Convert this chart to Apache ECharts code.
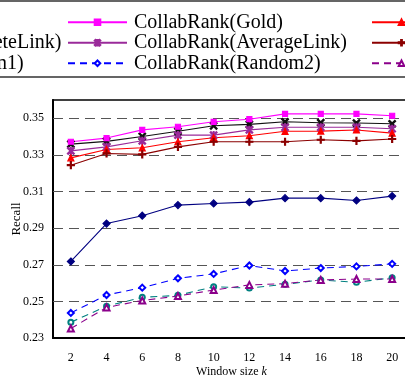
<!DOCTYPE html>
<html><head><meta charset="utf-8">
<script src="https://cdn.jsdelivr.net/npm/echarts@6/dist/echarts.min.js"></script>
<style>html,body{margin:0;padding:0;background:#fff}#c{width:405px;height:382px}</style>
</head><body><div id="c"></div>
<script>
const windowSizes = ['2','4','6','8','10','12','14','16','18','20'];
const yTickLabels = [0.23,0.25,0.27,0.29,0.31,0.33,0.35];
const gridLines = [0.25,0.27,0.29,0.31,0.33,0.35];

const singleRank    = [0.2718,0.2925,0.2968,0.3026,0.3035,0.3042,0.3064,0.3064,0.3051,0.3075];
const completeLink  = [0.3359,0.3374,0.3401,0.3429,0.3459,0.3467,0.3481,0.3476,0.3474,0.3470];
const random1       = [0.2386,0.2474,0.2522,0.2533,0.2580,0.2573,0.2593,0.2617,0.2604,0.2629];
const gold          = [0.3372,0.3392,0.3437,0.3454,0.3481,0.3495,0.3524,0.3524,0.3524,0.3514];
const averageLink   = [0.3322,0.3344,0.3377,0.3408,0.3408,0.3437,0.3451,0.3451,0.3451,0.3443];
const random2       = [0.2437,0.2535,0.2575,0.2626,0.2650,0.2696,0.2666,0.2682,0.2691,0.2705];
const kmeans        = [0.3284,0.3330,0.3339,0.3372,0.3394,0.3405,0.3429,0.3430,0.3436,0.3419];
const singleLink    = [0.3244,0.3308,0.3303,0.3344,0.3372,0.3372,0.3372,0.3383,0.3377,0.3387];
const random3       = [0.2352,0.2467,0.2505,0.2529,0.2562,0.2590,0.2597,0.2617,0.2622,0.2622];

const FONT = "'Liberation Serif','Times New Roman',serif";
const X_SYM = 'path://M0,1.2L1.2,0L5,3.8L8.8,0L10,1.2L6.2,5L10,8.8L8.8,10L5,6.2L1.2,10L0,8.8L3.8,5Z';
const PLUS_SYM = 'path://M4.3,0H5.7V4.3H10V5.7H5.7V10H4.3V5.7H0V4.3H4.3Z';
const STAR_SYM = 'path://M0,1.2L1.2,0L5,3.8L8.8,0L10,1.2L6.2,5L10,8.8L8.8,10L5,6.2L1.2,10L0,8.8L3.8,5Z M4.4,0H5.6V10H4.4Z';

function mk(name, data, color, symbol, size, dashed) {
  return {
    name, type: 'line', data, symbol, symbolSize: size,
    lineStyle: { color, width: 1.1, type: dashed ? [7,5] : 'solid' },
    itemStyle: { color, borderColor: color, borderWidth: 1.2 },
    z: 3
  };
}

const series = [
  mk('SingleRank', singleRank, '#000080', 'diamond', 7, false),
  mk('CollabRank(CompleteLink)', completeLink, '#111111', X_SYM, 7, false),
  mk('CollabRank(Random1)', random1, '#008080', 'emptyCircle', 5, true),
  mk('CollabRank(Gold)', gold, '#ff00ff', 'rect', 5, false),
  mk('CollabRank(AverageLink)', averageLink, '#9a2a9a', STAR_SYM, 7, false),
  mk('CollabRank(Random2)', random2, '#0000ff', 'emptyDiamond', 6, true),
  mk('CollabRank(Kmeans)', kmeans, '#ff0000', 'triangle', 6, false),
  mk('CollabRank(SingleLink)', singleLink, '#8b0000', PLUS_SYM, 7, false),
  mk('CollabRank(Random3)', random3, '#8b008b', 'emptyTriangle', 6, true)
];
series[0].markLine = {
  silent: true, symbol: 'none', label: { show: false },
  lineStyle: { color: '#555', type: [10,6], width: 1 },
  data: gridLines.map(v => ({ yAxis: v })),
  z: 1
};

function legendCol(left, names) {
  return {
    orient: 'vertical', left, top: 12, padding: 0, itemWidth: 59, itemHeight: 7, itemGap: 0,
    textStyle: { fontFamily: FONT, fontSize: 20, lineHeight: 20.5, color: '#000', padding: [0,0,0,2] },
    data: names
  };
}

const chart = echarts.init(document.getElementById('c'), null, { renderer: 'canvas' });
chart.setOption({
  animation: false,
  backgroundColor: '#fff',
  graphic: [{
    type: 'rect', shape: { x: -20, y: 1, width: 445, height: 76 },
    style: { fill: 'none', stroke: '#333', lineWidth: 1.5 }, z: 0
  }],
  legend: [
    legendCol(-230, series.slice(0,3).map(s => s.name)),
    legendCol(67, series.slice(3,6).map(s => s.name)),
    legendCol(371, series.slice(6,9).map(s => s.name))
  ],
  grid: { left: 53, top: 100, right: -5, bottom: 44, show: true, borderColor: '#000', borderWidth: 1.5, containLabel: false, outerBoundsMode: 'none' },
  xAxis: {
    type: 'category', data: windowSizes, boundaryGap: true,
    name: '{a|Window size }{b|k}', nameLocation: 'middle', nameGap: 28, nameMoveOverlap: false,
    nameTextStyle: { rich: { a: { fontFamily: FONT, fontSize: 12, color: '#000' }, b: { fontFamily: FONT, fontSize: 12, fontStyle: 'italic', color: '#000' } } },
    axisLine: { lineStyle: { color: '#000', width: 2 } },
    axisTick: { inside: true, length: 5, lineStyle: { color: '#000', width: 1.5 } },
    axisLabel: { fontFamily: FONT, fontSize: 12, color: '#000', margin: 14 },
    splitLine: { show: false }
  },
  yAxis: {
    type: 'value', min: 0.23, max: 0.36, interval: 0.01,
    name: 'Recall', nameLocation: 'middle', nameGap: 30, nameMoveOverlap: false,
    nameTextStyle: { fontFamily: FONT, fontSize: 13, color: '#000' },
    axisLine: { show: true, lineStyle: { color: '#000', width: 2 } },
    axisTick: { show: false },
    axisLabel: {
      fontFamily: FONT, fontSize: 12, color: '#000', margin: 9,
      formatter: v => yTickLabels.some(t => Math.abs(t - v) < 1e-6) ? v.toFixed(2) : ''
    },
    splitLine: { show: false }
  },
  series
});
</script></body></html>
